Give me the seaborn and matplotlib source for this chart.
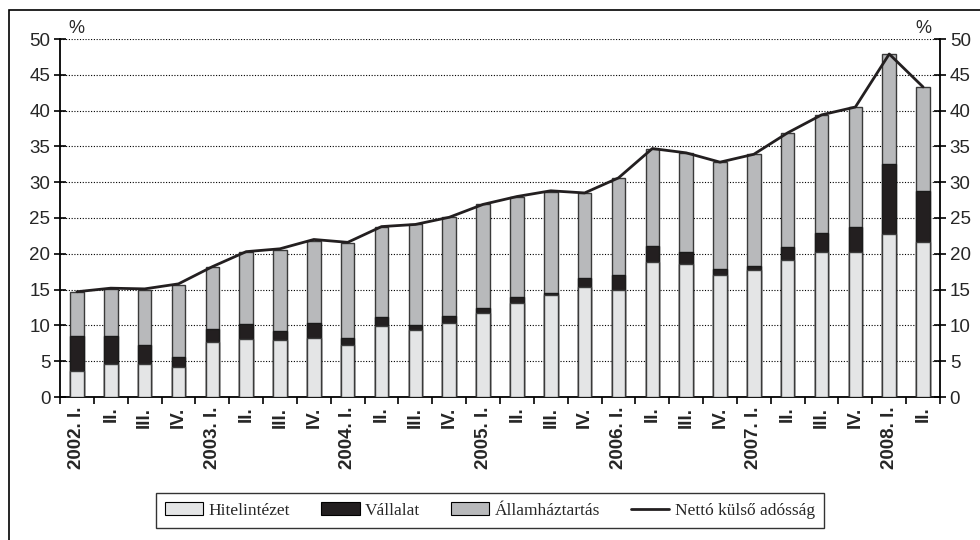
import numpy as np
import pandas as pd
import seaborn as sns
import matplotlib.pyplot as plt
from matplotlib.patches import Rectangle, Patch
from matplotlib.lines import Line2D
from matplotlib.ticker import FixedLocator

# quarters 2002 I. - 2008 II.
quarters = ['2002. I.', 'II.', 'III.', 'IV.',
            '2003. I.', 'II.', 'III.', 'IV.',
            '2004. I.', 'II.', 'III.', 'IV.',
            '2005. I.', 'II.', 'III.', 'IV.',
            '2006. I.', 'II.', 'III.', 'IV.',
            '2007. I.', 'II.', 'III.', 'IV.',
            '2008. I.', 'II.']

# % of GDP
hitelintezet = [3.7, 4.6, 4.6, 4.2, 7.7, 8.1, 7.9, 8.3, 7.2, 9.9, 9.3, 10.4, 11.7,
                13.1, 14.2, 15.3, 15.0, 18.8, 18.6, 17.1, 17.8, 19.1, 20.2, 20.2, 22.8, 21.6]
vallalat = [4.8, 3.9, 2.6, 1.45, 1.8, 2.1, 1.3, 2.1, 1.0, 1.3, 0.8, 0.9, 0.7,
            0.9, 0.3, 1.3, 2.1, 2.3, 1.6, 0.8, 0.5, 1.8, 2.7, 3.5, 9.8, 7.2]
allamhaztartas = [6.1, 6.6, 7.8, 9.95, 8.6, 10.0, 11.4, 11.4, 13.3, 12.5, 14.0, 13.8, 14.5,
                  13.9, 14.2, 11.9, 13.5, 13.6, 13.9, 14.9, 15.6, 16.0, 16.5, 16.8, 15.3, 14.5]
netto = [14.7, 15.2, 15.1, 15.8, 18.2, 20.3, 20.7, 22.0, 21.6, 23.8, 24.1, 25.1, 26.9,
         28.0, 28.8, 28.5, 30.6, 34.7, 34.1, 32.8, 33.9, 36.9, 39.4, 40.5, 47.9, 43.3]

c_light = '#e4e5e6'
c_dark = '#231f20'
c_gray = '#b8b9bb'

df = pd.DataFrame({'idx': np.arange(len(quarters)),
                   'h': hitelintezet, 'v': vallalat, 'a': allamhaztartas, 'n': netto})
df['hv'] = df['h'] + df['v']
df['hva'] = df['hv'] + df['a']

sns.set_style('ticks')
plt.rcParams['font.family'] = ['Liberation Sans', 'DejaVu Sans']

fig = plt.figure(figsize=(9.8, 5.4), dpi=100)
ax = fig.add_axes([60/980, 1-397/540, 880/980, 358/540])

# stacked bars drawn as overlapping cumulative bars
sns.barplot(data=df, x='idx', y='hva', color=c_gray, saturation=1, width=0.4,
            edgecolor='#3a3a3a', linewidth=1, ax=ax, zorder=3)
sns.barplot(data=df, x='idx', y='hv', color=c_dark, saturation=1, width=0.4,
            edgecolor='#1a1a1a', linewidth=1, ax=ax, zorder=3)
sns.barplot(data=df, x='idx', y='h', color=c_light, saturation=1, width=0.4,
            edgecolor='#3a3a3a', linewidth=1, ax=ax, zorder=3)
sns.lineplot(data=df, x='idx', y='n', color=c_dark, linewidth=2, ax=ax, zorder=4)

ax.set_xlim(-0.5, len(quarters) - 0.5)
ax.set_ylim(0, 50)
ax.set_yticks(np.arange(0, 51, 5))
ax.set_xlabel('')
ax.set_ylabel('')

ax.set_xticks(np.arange(len(quarters)))
ax.set_xticklabels(quarters, rotation=90, fontweight='bold', fontsize=13.5, va='top')
ax.xaxis.set_minor_locator(FixedLocator(np.arange(-0.5, len(quarters), 1)))
ax.tick_params(axis='x', which='major', length=0, pad=7)
ax.tick_params(axis='x', which='minor', length=5, width=1.2, direction='out', color='black')
ax.tick_params(axis='y', left=True, right=True, labelleft=True, labelright=True,
               direction='inout', length=8, width=1.2, labelsize=13.5, color='black', pad=3)

ax.yaxis.grid(True, linestyle=(0, (1, 1.5)), color='black', linewidth=0.8, zorder=0)
ax.set_axisbelow(True)
for side in ['left', 'right', 'bottom']:
    ax.spines[side].set_visible(True)
    ax.spines[side].set_color('black')
    ax.spines[side].set_linewidth(1.3)
ax.spines['top'].set_visible(False)

ax.text(0.01, 1.005, '%', transform=ax.transAxes, fontsize=13, ha='left', va='bottom')
ax.text(0.99, 1.005, '%', transform=ax.transAxes, fontsize=13, ha='right', va='bottom')

handles = [Patch(facecolor=c_light, edgecolor='black', linewidth=0.8),
           Patch(facecolor=c_dark, edgecolor='black', linewidth=0.8),
           Patch(facecolor=c_gray, edgecolor='black', linewidth=0.8),
           Line2D([], [], color=c_dark, linewidth=2)]
labels = ['Hitelintézet', 'Vállalat', 'Államháztartás', 'Nettó külső adósság']
leg = fig.legend(handles, labels, loc='center', bbox_to_anchor=(490/980, 1-510.5/540),
                 ncol=4, frameon=True, fancybox=False, edgecolor='black',
                 prop={'family': ['Liberation Serif', 'DejaVu Serif'], 'size': 12.5},
                 handlelength=2.2, handletextpad=0.3, columnspacing=1.8,
                 borderpad=0.55)
leg.get_frame().set_linewidth(1)

# outer frame (only top and left edges fall inside the image)
fig.patches.append(Rectangle((9/980, -0.05), 1.2, 1 - 10/540 + 0.05, transform=fig.transFigure,
                             fill=False, edgecolor='black', linewidth=1.2))

fig.savefig('out.png', dpi=100)
